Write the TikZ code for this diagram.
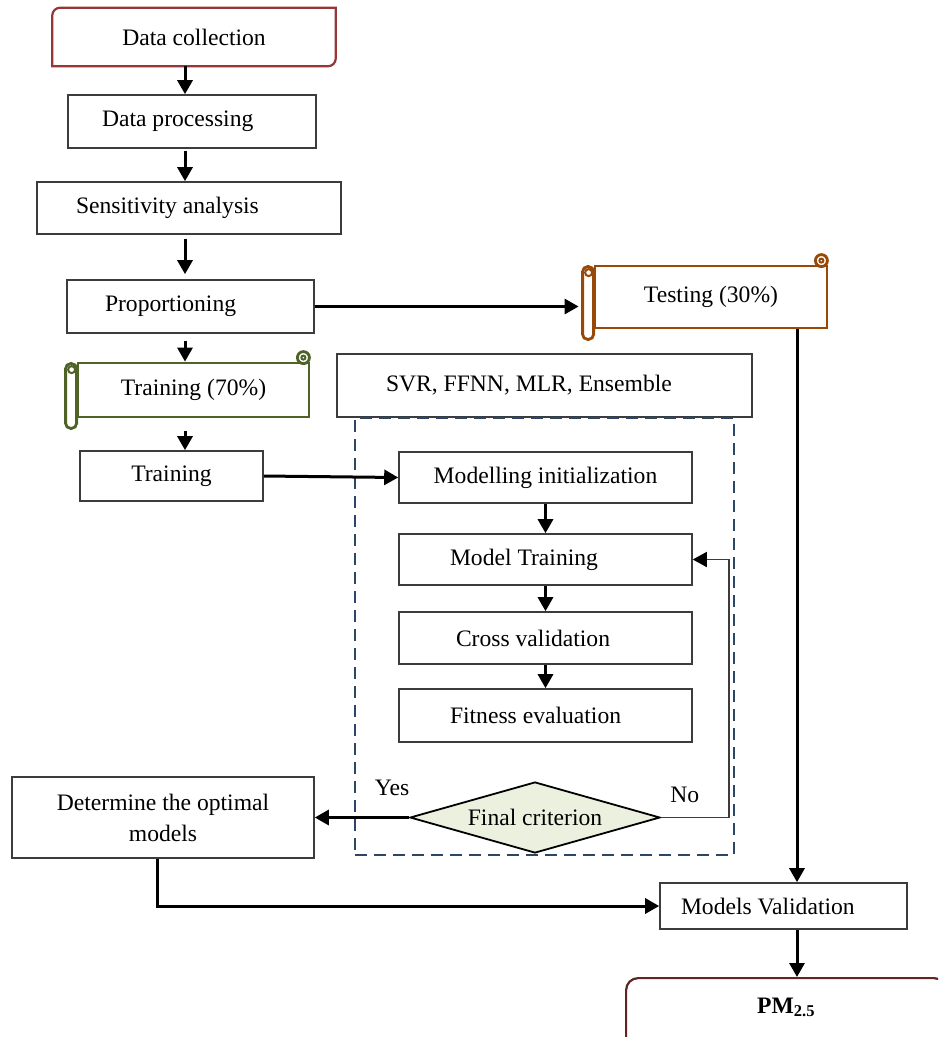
\documentclass[tikz,border=0pt]{standalone}
\usepackage{fontspec}
\setmainfont{Liberation Serif}
\usepackage{tikz}
\usetikzlibrary{positioning,shapes.geometric,arrows.meta,calc}
\definecolor{ink}     {HTML}{000000}
\definecolor{frame}   {HTML}{3C3C3C}
\definecolor{brick}   {HTML}{953735}
\definecolor{wine}    {HTML}{632523}
\definecolor{rust}    {HTML}{984807}
\definecolor{olive}   {HTML}{4F6228}
\definecolor{slate}   {HTML}{2C4666}
\definecolor{sage}    {HTML}{EBF1DE}
\tikzset{
  every node/.style={font=\fontsize{23.6}{31}\selectfont},
  % --- nodes
  box/.style   = {draw=frame, line width=1.6pt, fill=white, align=center, inner sep=0pt},
  pad/.style   = {align=flush left, inner xsep=#1},
  scroll/.style= {box, line width=2.8pt},
  crit/.style  = {diamond, aspect=3.5, draw=ink, line width=1.8pt, fill=sage, inner sep=0pt},
  lbl/.style   = {inner sep=0pt},
  % --- edges
  e/.style     = {-{Triangle[length=14pt,width=15pt]}, line width=3pt, draw=ink},
  ethin/.style = {-{Triangle[length=14pt,width=15pt,color=ink]}, line width=1.7pt, draw=frame},
}
% scroll trimmings: left roller and top right curl
\newcommand{\scrolltrim}[2]{%
  \draw[#2, line width=2.8pt, rounded corners=5pt, fill=white]
    ($(#1.north west)+(-11,2)$) rectangle ($(#1.south west)+(0,10)$);
  \draw[#2, line width=2pt] ($(#1.north west)+(-5,8)$) circle[radius=3.5];
  \draw[#2, line width=2.8pt, fill=white] ($(#1.north east)+(-7,-4)$) circle[radius=6];
  \draw[#2, line width=2pt] ($(#1.north east)+(-7,-4)$) circle[radius=2];
}

\begin{document}
\begin{tikzpicture}[x=1pt, y=-1pt]
  \useasboundingbox (0,0) rectangle (938,1037);
  \clip (0,0) rectangle (938,1037);
  \coordinate (spine) at (185,0);
  \coordinate (drop)  at (797,0);

  % left column
  \node[box, draw=none, minimum width=282pt, minimum height=57pt] (dc) at (194,37) {Data collection};
  \draw[brick, line width=2.2pt] (dc.south west) -- ($(dc.north west)+(0,8)$)
    arc[start angle=180, end angle=270, radius=8] -- (dc.north east)
    -- ($(dc.south east)+(0,-8)$) arc[start angle=0, end angle=90, radius=8] -- cycle;
  \node[box, pad=34pt, text width=180pt, minimum height=53pt] (proc) at (192,121.5) {Data processing};
  \node[box, pad=39pt, text width=226pt, minimum height=52pt] (sens) at (189,208) {Sensitivity analysis};
  \node[box, pad=38pt, text width=171pt, minimum height=53pt] (prop) at (190.5,306.5) {Proportioning};
  \node[scroll, draw=rust, minimum width=232pt, minimum height=62pt] (test) at (711,297) {Testing (30\%)};
  \scrolltrim{test}{rust}
  \node[scroll, draw=olive, minimum width=231pt, minimum height=54pt] (tr70) at (193.5,390) {Training (70\%)};
  \scrolltrim{tr70}{olive}
  \node[box, minimum width=183pt, minimum height=50pt] (train) at (171.5,476) {Training};
  \node[box, pad=49pt, text width=317pt, minimum height=63pt] (svr) at (544.5,385.5) {SVR, FFNN, MLR, Ensemble};

  % model loop
  \node[draw=slate, line width=2.4pt, dash pattern=on 12pt off 7pt, inner sep=0pt,
        minimum width=379pt, minimum height=437pt] (loop) at (544.5,636.5) {};
  \node[box, minimum width=293pt, minimum height=51pt] (init) at (545.5,477.5) {Modelling initialization};
  \node[box, pad=51pt, text width=191pt, minimum height=51pt] (mtr) at (545.5,559.5) {Model Training};
  \node[box, pad=57pt, text width=179pt, minimum height=52pt] (cv) at (545.5,638) {Cross validation};
  \node[box, pad=51pt, text width=191pt, minimum height=53pt] (fit) at (545.5,715.5) {Fitness evaluation};
  \node[crit, minimum width=250pt, minimum height=71pt] (crit) at (535,817.5) {Final criterion};
  \node[box, minimum width=302pt, minimum height=81pt] (det) at (163,817.5) {Determine the optimal\\models};
  \node[box, pad=21pt, text width=205pt, minimum height=46pt] (val) at (783.5,906) {Models Validation};
  \node[box, draw=wine, line width=2.2pt, rounded corners=12pt, anchor=north west, minimum width=320pt,
        inner ysep=0pt, text height=35pt, text depth=60pt] (pm) at (625,977) {\textbf{PM\textsubscript{2.5}}};

  \draw[e] (spine |- dc.south) -- (spine |- proc.north);
  \draw[e, shorten <=2pt] (spine |- proc.south) -- (spine |- sens.north);
  \draw[e, shorten <=4pt, shorten >=5pt] (spine |- sens.south) -- (spine |- prop.north);
  \draw[e, shorten <=7pt] (spine |- prop.south) -- (spine |- tr70.north);
  \draw[e, shorten <=13pt] (spine |- tr70.south) -- (spine |- train.north);
  \coordinate (troll) at ([xshift=-15pt]test.west);
  \draw[e] (prop.east) -- (prop.east -| troll);
  \draw[e] (train.east) -- (init.west);
  \draw[e] (init) -- (mtr);
  \draw[e] (mtr) -- (cv);
  \draw[e] (cv) -- (fit);
  \draw[e] (crit.west) -- node[lbl, pos=0.18, above=20pt] {Yes} (det.east);
  \draw[ethin] (crit.east) -- node[lbl, pos=0.35, above=14pt] {No} ++(68,0) |- (mtr.east);
  \draw[e] (drop |- test.south) -- (drop |- val.north);
  \draw[e] (drop |- val.south) -- (drop |- pm.north);
  \draw[e] ([xshift=-6pt]det.south) |- (val.west);
\end{tikzpicture}
\end{document}
